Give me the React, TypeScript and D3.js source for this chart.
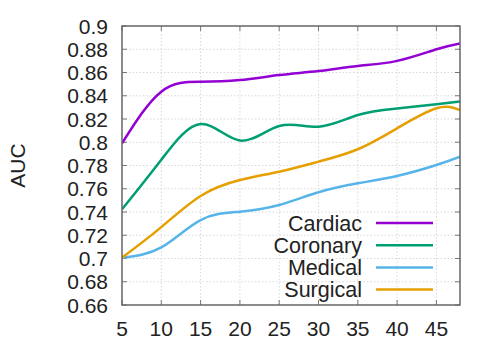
import React, { useRef, useEffect } from "react";
import * as d3 from "d3";

const xValues = [5, 10, 15, 20, 25, 30, 35, 40, 45, 48];
const cardiac = [0.799, 0.8435, 0.852, 0.8535, 0.8578, 0.8613, 0.8656, 0.870, 0.880, 0.885];
const coronary = [0.7423, 0.785, 0.8157, 0.8015, 0.814, 0.8134, 0.8234, 0.829, 0.8327, 0.835];
const medical = [0.7007, 0.7096, 0.7331, 0.7403, 0.746, 0.757, 0.7647, 0.771, 0.7804, 0.7876];
const surgical = [0.7007, 0.727, 0.7538, 0.7675, 0.7747, 0.7833, 0.794, 0.812, 0.8292, 0.8277];

const seriesNames = ["Cardiac", "Coronary", "Medical", "Surgical"];
const seriesColors = ["#9400d3", "#009e73", "#56b4e9", "#e69f00"];
const xTicks = [5, 10, 15, 20, 25, 30, 35, 40, 45];
const yTicks = [0.66, 0.68, 0.7, 0.72, 0.74, 0.76, 0.78, 0.8, 0.82, 0.84, 0.86, 0.88, 0.9];

export default function App() {
    const ref = useRef<SVGSVGElement>(null);

    useEffect(() => {
        const width = 500;
        const height = 350;
        const margin = { top: 26, right: 40, bottom: 45, left: 122 };
        const font = "'Liberation Sans', Arial, sans-serif";

        const svg = d3.select(ref.current);
        svg.selectAll("*").remove();

        const x = d3.scaleLinear()
            .domain([5, 48])
            .range([margin.left, width - margin.right]);

        const y = d3.scaleLinear()
            .domain([0.66, 0.9])
            .range([height - margin.bottom, margin.top]);

        const x0 = margin.left, x1 = width - margin.right;
        const y0 = height - margin.bottom, y1 = margin.top;

        // grid
        const grid = svg.append("g")
            .attr("stroke", "#d8d8d8")
            .attr("stroke-width", 1)
            .attr("stroke-dasharray", "1.5,2");
        xTicks.slice(1).forEach(t => {
            grid.append("line").attr("x1", x(t)).attr("x2", x(t)).attr("y1", y0).attr("y2", y1);
        });
        yTicks.slice(1, -1).forEach(t => {
            grid.append("line").attr("x1", x0).attr("x2", x1).attr("y1", y(t)).attr("y2", y(t));
        });

        // ticks (inward, mirrored)
        const ticks = svg.append("g").attr("stroke", "#777").attr("stroke-width", 1);
        xTicks.forEach(t => {
            ticks.append("line").attr("x1", x(t)).attr("x2", x(t)).attr("y1", y0).attr("y2", y0 - 5);
            ticks.append("line").attr("x1", x(t)).attr("x2", x(t)).attr("y1", y1).attr("y2", y1 + 5);
        });
        yTicks.forEach(t => {
            ticks.append("line").attr("x1", x0).attr("x2", x0 + 5).attr("y1", y(t)).attr("y2", y(t));
            ticks.append("line").attr("x1", x1).attr("x2", x1 - 5).attr("y1", y(t)).attr("y2", y(t));
        });

        // tick labels
        svg.append("g")
            .selectAll("text")
            .data(yTicks)
            .enter()
            .append("text")
            .attr("x", x0 - 14)
            .attr("y", d => y(d))
            .attr("dy", "0.36em")
            .attr("text-anchor", "end")
            .attr("font-family", font)
            .attr("font-size", 21)
            .attr("fill", "#222")
            .text(d => String(d));

        svg.append("g")
            .selectAll("text")
            .data(xTicks)
            .enter()
            .append("text")
            .attr("x", d => x(d))
            .attr("y", 336)
            .attr("text-anchor", "middle")
            .attr("font-family", font)
            .attr("font-size", 21)
            .attr("fill", "#222")
            .text(d => String(d));

        svg.append("text")
            .attr("transform", "translate(25,165.5) rotate(-90)")
            .attr("text-anchor", "middle")
            .attr("font-family", font)
            .attr("font-size", 21)
            .attr("fill", "#222")
            .text("AUC");

        // lines
        const allSeries = [cardiac, coronary, medical, surgical];
        const line = d3.line<number>()
            .x((_, i) => x(xValues[i]))
            .y(d => y(d))
            .curve(d3.curveNatural);

        svg.append("clipPath").attr("id", "plotclip")
            .append("rect")
            .attr("x", x0).attr("y", y1).attr("width", x1 - x0).attr("height", y0 - y1);

        const lines = svg.append("g").attr("clip-path", "url(#plotclip)");
        allSeries.forEach((s, i) => {
            lines.append("path")
                .datum(s)
                .attr("d", line)
                .attr("fill", "none")
                .attr("stroke", seriesColors[i])
                .attr("stroke-width", 2.5);
        });

        // frame
        svg.append("rect")
            .attr("x", x0).attr("y", y1)
            .attr("width", x1 - x0).attr("height", y0 - y1)
            .attr("fill", "none")
            .attr("stroke", "#666")
            .attr("stroke-width", 1.5);

        // legend
        const legend = svg.append("g");
        seriesNames.forEach((name, i) => {
            const ly = 223 + i * 22.2;
            legend.append("text")
                .attr("x", 362)
                .attr("y", ly)
                .attr("dy", "0.36em")
                .attr("text-anchor", "end")
                .attr("font-family", font)
                .attr("font-size", 21.5)
                .attr("fill", "#222")
                .text(name);
            legend.append("line")
                .attr("x1", 376).attr("x2", 433)
                .attr("y1", ly).attr("y2", ly)
                .attr("stroke", seriesColors[i])
                .attr("stroke-width", 2.5);
        });
    }, []);

    return (
        <div style={{ margin: -8 }}>
            <svg ref={ref} width={500} height={350}></svg>
        </div>
    );
}
